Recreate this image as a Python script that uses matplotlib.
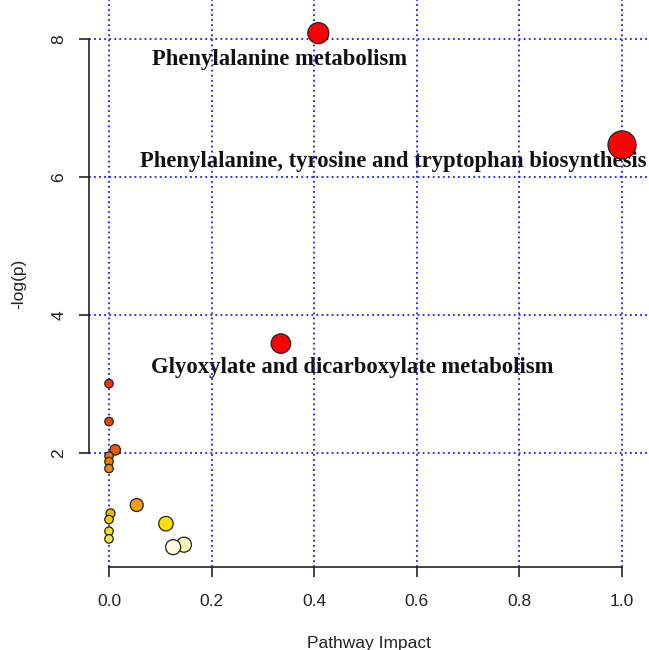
import matplotlib.pyplot as plt

# pathway impact vs -log(p)
pathways = ['Phenylalanine metabolism',
            'Phenylalanine, tyrosine and tryptophan biosynthesis',
            'Glyoxylate and dicarboxylate metabolism',
            '', '', '', '', '', '', '', '', '', '', '', '', '', '']
impact = [0.408, 1.0, 0.335, 0.0, 0.0, 0.012, 0.0, 0.0, 0.0,
          0.054, 0.003, 0.0, 0.0, 0.0, 0.111, 0.146, 0.125]
neglogp = [8.09, 6.47, 3.59, 3.01, 2.46, 2.05, 1.96, 1.88, 1.78,
           1.25, 1.13, 1.04, 0.87, 0.76, 0.98, 0.675, 0.64]

# marker look (diameter in px, fill colour)
marker_px = [21, 28, 19.5, 8.5, 8.5, 10.5, 8.5, 8.5, 8.5, 13, 9, 8.5, 8.5, 8.5, 14.5, 15, 15]
fill = ['#FF0000', '#FF0000', '#FF0000', '#EE3A00', '#EE4400', '#F05A00',
        '#F07400', '#F07C00', '#F08400', '#F5A000', '#F5B800', '#F5C800',
        '#F5E020', '#F5E840', '#FFE000', '#FFFFB0', '#FFFFE0']

labelled = {
    0: (0.0832, 7.628),
    1: (0.0604, 6.154),
    2: (0.0812, 3.164),
}

fig = plt.figure(figsize=(6.49, 6.50), dpi=100)
ax = fig.add_axes([89 / 649, 83 / 650, 560 / 649, 567 / 650])

ax.set_xlim(-0.039, 1.0526)
ax.set_ylim(0.352, 8.57)

xt = [0.0, 0.2, 0.4, 0.6, 0.8, 1.0]
yt = [2, 4, 6, 8]
for v in xt:
    ax.axvline(v, color='#1a1aff', lw=1.3, ls=(0, (1, 1.8)), zorder=2)
for v in yt:
    ax.axhline(v, color='#1a1aff', lw=1.3, ls=(0, (1, 1.8)), zorder=2)

sizes = [(0.72 * d) ** 2 for d in marker_px]
ax.scatter(impact, neglogp, s=sizes, c=fill, edgecolors='#222222',
           linewidths=0.9, zorder=3)

for i, (tx, ty) in labelled.items():
    ax.text(tx, ty, pathways[i], ha='left', va='baseline',
            family='Liberation Serif', fontweight='bold', fontsize=16.3,
            color='#111111', zorder=1)

for s in ['top', 'right']:
    ax.spines[s].set_visible(False)
ax.spines['left'].set_bounds(2, 8)
ax.spines['bottom'].set_bounds(0, 1)
for s in ['left', 'bottom']:
    ax.spines[s].set_linewidth(1.2)
    ax.spines[s].set_color('#222222')

ax.set_xticks(xt)
ax.set_xticklabels(['0.0', '0.2', '0.4', '0.6', '0.8', '1.0'])
ax.set_yticks(yt)
ax.set_yticklabels(['2', '4', '6', '8'], rotation=90, va='center')
ax.tick_params(direction='out', length=7.2, width=1.2, color='#222222',
               labelsize=12.5, labelcolor='#222222')
ax.tick_params(axis='x', pad=12)
ax.tick_params(axis='y', pad=9)
for lab in ax.get_xticklabels() + ax.get_yticklabels():
    lab.set_family('Liberation Sans')

ax.set_xlabel('Pathway Impact', fontsize=12.5, family='Liberation Sans',
              color='#222222', labelpad=20)
ax.set_ylabel('-log(p)', fontsize=12.5, family='Liberation Sans',
              color='#222222', labelpad=18)

fig.savefig('out.png', dpi=100)
